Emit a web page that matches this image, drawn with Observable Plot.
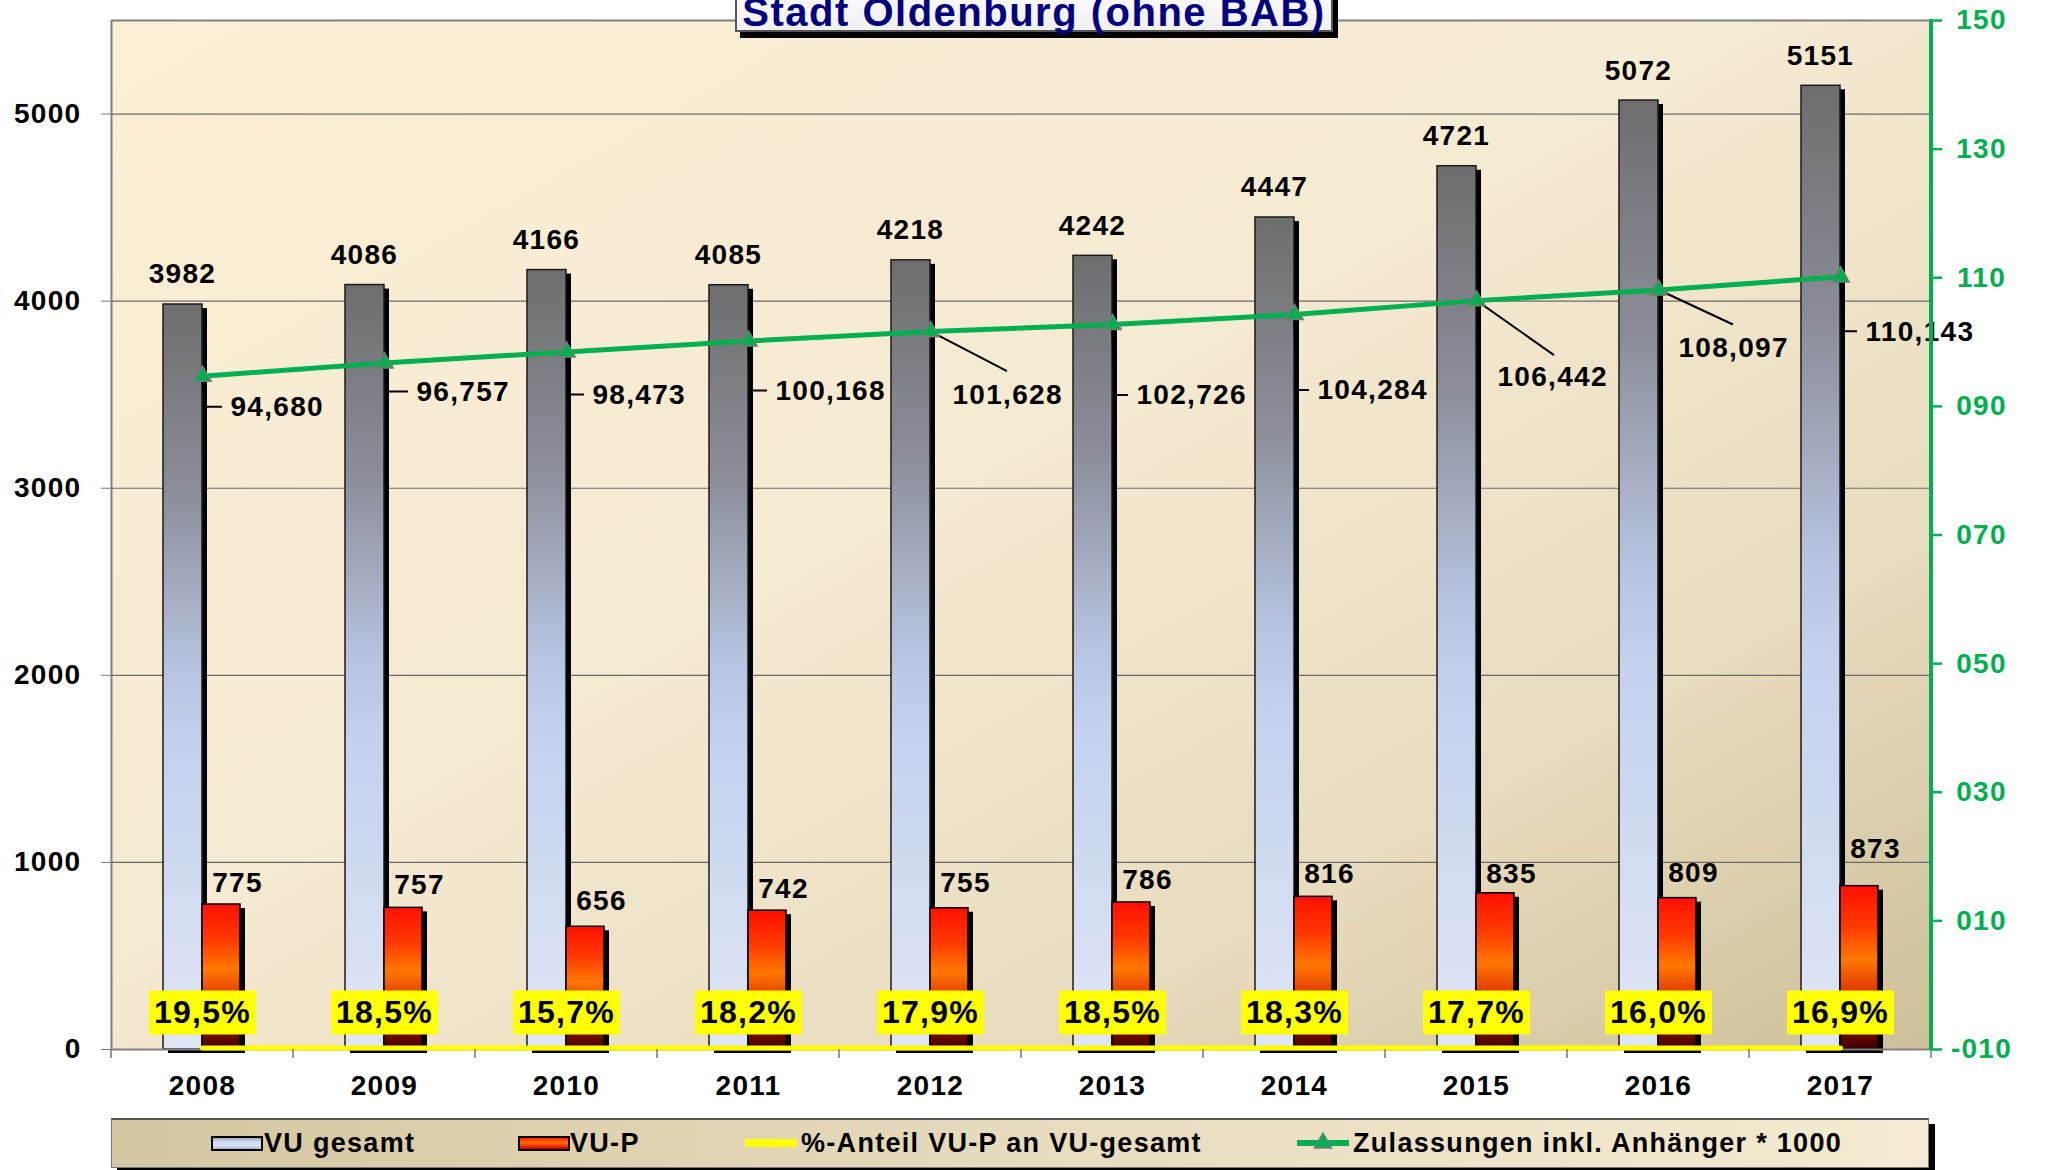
<!DOCTYPE html>
<html><head><meta charset="utf-8">
<script src="https://cdn.jsdelivr.net/npm/d3@7"></script>
<script src="https://cdn.jsdelivr.net/npm/@observablehq/plot@0.6"></script>
<style>
html,body{margin:0;padding:0;background:#fff;width:2046px;height:1170px;overflow:hidden;position:relative;font-family:Arial,"Liberation Sans",sans-serif;}
#chart{position:absolute;left:0;top:0;}
#chart svg text{letter-spacing:1.3px;}
#title-box{position:absolute;left:735px;top:-20px;width:598px;height:52px;box-sizing:border-box;background:linear-gradient(#ffffff,#f0f0f0);border:2px solid #555;box-shadow:5px 6px 0 #000;}
#title{position:absolute;left:735px;top:-8px;width:598px;text-align:center;font-size:40px;line-height:40px;font-weight:bold;color:#000080;letter-spacing:1.5px;white-space:nowrap;}
#legend{position:absolute;left:111px;top:1118px;width:1818px;height:50px;box-sizing:border-box;border:1px solid #777;border-top:2px solid #555;background:linear-gradient(90deg,#d4c6a0,#e6dbbd 50%,#f5ebd2);box-shadow:6px 6px 0 #000;font-size:27px;font-weight:bold;letter-spacing:1.3px;color:#000;}
.item{position:absolute;top:0;height:46px;line-height:46px;white-space:nowrap;}
.sw{position:absolute;top:16px;width:52px;height:15px;box-sizing:border-box;border:2px solid #000;}
</style></head><body>
<div id="chart"></div>
<div id="title-box"></div>
<div id="title"></div>
<div id="legend"></div>
<script>
// ---- data ----
const titleText = "Stadt Oldenburg (ohne BAB)";
const years = ["2008","2009","2010","2011","2012","2013","2014","2015","2016","2017"];
const vuGesamt = [3982,4086,4166,4085,4218,4242,4447,4721,5072,5151];
const vuP = [775,757,656,742,755,786,816,835,809,873];
const anteil = [19.5,18.5,15.7,18.2,17.9,18.5,18.3,17.7,16.0,16.9];
const zulassungen = [94680,96757,98473,100168,101628,102726,104284,106442,108097,110143];
const leftTicks = [0,1000,2000,3000,4000,5000];
const rightTicks = [-10,10,30,50,70,90,110,130,150];
const leftDomain = [0,5500];
const rightDomain = [-10,150];
const seriesNames = ["VU gesamt","VU-P","%-Anteil VU-P an VU-gesamt","Zulassungen inkl. Anhänger * 1000"];

// ---- layout (pixel offsets of labels and leader lines) ----
const zulLabelLayout = [
  {dx:28, dy:31},
  {dx:32, dy:29},
  {dx:26, dy:43},
  {dx:27, dy:50},
  {dx:22, dy:63, leader:[77,40]},
  {dx:24, dy:71},
  {dx:23, dy:76},
  {dx:21, dy:76, leader:[78,55]},
  {dx:20, dy:58, leader:[75,35]},
  {dx:25, dy:55}
];
const vupLabelDy = [-21,-23,-26,-22,-25,-22,-23,-19,-25,-37];

const rows = years.map((year,i)=>({year, gesamt:vuGesamt[i], vup:vuP[i], anteil:anteil[i], zul:zulassungen[i], i}));
const toLeft = r => (r - rightDomain[0]) / (rightDomain[1]-rightDomain[0]) * leftDomain[1];
const toRight = l => l / leftDomain[1] * (rightDomain[1]-rightDomain[0]) + rightDomain[0];
const fmtPct = v => v.toFixed(1).replace(".", ",") + "%";
const fmtZul = v => (v/1000).toFixed(3).replace(".", ",");
const fmtR = v => (v < 0 ? "-" : "") + String(Math.abs(v)).padStart(3,"0");
const zulY = d => toLeft(d.zul/1000);
const pctY = d => d.anteil/100;

const GREEN = "#00b050";

const defs = () => {
  const d = d3.create("svg:defs");
  const grad = (id, stops, x2=0, y2=1) => {
    const g = d.append("linearGradient").attr("id", id).attr("x1",0).attr("y1",0).attr("x2",x2).attr("y2",y2);
    stops.forEach(([o,c]) => g.append("stop").attr("offset", o).attr("stop-color", c));
  };
  grad("bgGrad", [[0,"#fcefd6"],[0.45,"#f5ead2"],[0.75,"#e8dcbe"],[1,"#cdbf99"]], 1, 1);
  grad("grayGrad", [[0,"#6e6e6e"],[0.25,"#8b8e99"],[0.5,"#b8c5e2"],[0.6,"#c4d2ee"],[1,"#dfe6f5"]]);
  grad("redGrad", [[0,"#ff1000"],[0.25,"#ff3a00"],[0.45,"#ff7800"],[0.7,"#d82400"],[1,"#3c0000"]]);
  return d.node();
};

const leaders = (index, scales) => {
  const x = scales.x, y = scales.y, bw = x.bandwidth ? x.bandwidth() : 0;
  const g = d3.create("svg:g").attr("stroke","#000").attr("stroke-width",2).attr("fill","none");
  rows.forEach((d,i) => {
    const mx = x(d.year) + bw/2, my = y(zulY(d));
    const L = zulLabelLayout[i];
    const p = L.leader
      ? `M${mx},${my}L${mx+L.leader[0]},${my+L.leader[1]}`
      : `M${mx},${my}L${mx+3},${my+L.dy}L${mx+L.dx-8},${my+L.dy}`;
    g.append("path").attr("d", p);
  });
  return g.node();
};

const xBoundaryTicks = (index, scales, values, dims) => {
  const x = scales.x, bw = x.bandwidth();
  const y0 = dims.height - dims.marginBottom;
  const g = d3.create("svg:g").attr("stroke","#777").attr("stroke-width",1.5);
  const xs = years.map(yr => x(yr)).concat([x(years[years.length-1]) + bw]);
  xs.forEach(px => g.append("line").attr("x1",px).attr("x2",px).attr("y1",y0).attr("y2",y0+9));
  return g.node();
};

const rightAxisLine = (index, scales, values, dims) => {
  const xr = dims.width - dims.marginRight;
  return d3.create("svg:line").attr("x1",xr).attr("x2",xr)
    .attr("y1",dims.marginTop-1).attr("y2",dims.height-dims.marginBottom+1)
    .attr("stroke",GREEN).attr("stroke-width",4).node();
};

const boxSymbol = {draw(ctx){ ctx.rect(-53.5,-22,107,44); }};

const chart = Plot.plot({
  width: 2046, height: 1110,
  marginTop: 20, marginRight: 115, marginBottom: 61, marginLeft: 111,
  style: {fontFamily: "Arial, 'Liberation Sans', sans-serif", fontSize: "28px", fontWeight: "bold", color: "#000", background: "transparent", overflow: "visible"},
  x: {type: "band", domain: years, padding: 0, axis: null, label: null},
  y: {domain: leftDomain, nice: false, axis: null, label: null},
  marks: [
    defs,
    Plot.frame({fill: "url(#bgGrad)", stroke: "none"}),
    Plot.ruleY(leftTicks.slice(1), {stroke: "#6a6a6a", strokeWidth: 1.2}),
    Plot.barY(rows, {x:"year", y:"gesamt", fill:"#000", insetLeft:52, insetRight:91, dx:5, dy:4}),
    Plot.barY(rows, {x:"year", y:"gesamt", fill:"url(#grayGrad)", stroke:"#1a1a1a", strokeWidth:1.5, insetLeft:52, insetRight:91}),
    Plot.barY(rows, {x:"year", y:"vup", fill:"#000", insetLeft:91, insetRight:53, dx:5, dy:4}),
    Plot.barY(rows, {x:"year", y:"vup", fill:"url(#redGrad)", stroke:"#000", strokeWidth:1.5, insetLeft:91, insetRight:53}),
    Plot.frame({stroke:"#808080", strokeWidth:2, fill:"none"}),
    Plot.line(rows, {x:"year", y: zulY, stroke: GREEN, strokeWidth: 5}),
    leaders,
    Plot.dot(rows, {x:"year", y: zulY, symbol:"triangle", r:6.5, fill: GREEN, stroke:"#7a7a7a", strokeWidth:1.5}),
    Plot.line(rows, {x:"year", y: pctY, stroke:"#ffff00", strokeWidth:5, dy:-1.5}),
    Plot.dot(rows, {x:"year", y: pctY, symbol: boxSymbol, fill:"#ffff00", stroke:"none", dy:-37}),
    Plot.text(rows, {x:"year", y: pctY, text: d => fmtPct(d.anteil), dy:-37, fontSize:32, fill:"#000"}),
    Plot.text(rows, {x:"year", y:"gesamt", text: d => String(d.gesamt), dx:-20, dy:-30, fill:"#000"}),
    ...rows.map((d,i) => Plot.text([d], {x:"year", y:"vup", text: r => String(r.vup), dx:35, dy: vupLabelDy[i], fill:"#000"})),
    ...rows.map((d,i) => Plot.text([d], {x:"year", y: zulY, text: r => fmtZul(r.zul), textAnchor:"start", dx: zulLabelLayout[i].dx, dy: zulLabelLayout[i].dy, fill:"#000"})),
    xBoundaryTicks,
    rightAxisLine,
    Plot.axisY({ticks: leftTicks, tickFormat: d => String(d), tickSize: 10, tickPadding: 20, stroke:"#777", fill:"#000", label: null}),
    Plot.axisY({anchor:"right", ticks: rightTicks.map(toLeft), tickFormat: d => fmtR(Math.round(toRight(d))), tickSize: 10, tickPadding: 40, textAnchor:"middle", stroke: GREEN, fill: GREEN, strokeWidth: 2.5, label: null}),
    Plot.axisX({tickSize: 0, tickPadding: 26, fill:"#000", label: null})
  ]
});
document.getElementById("chart").appendChild(chart);
document.getElementById("title").textContent = titleText;

// ---- legend ----
const legend = document.getElementById("legend");
const legendItems = [
  {sw: '<div class="sw" style="left:0;background:linear-gradient(#9fa8bd,#d2dcf0 35%,#d6e0f3 70%,#aab3c8)"></div>', swLeft: 99, textLeft: 152},
  {sw: '<div class="sw" style="left:0;background:linear-gradient(#ff2000,#ff7000 45%,#ff2800 75%,#b00000)"></div>', swLeft: 406, textLeft: 458},
  {sw: '<div style="position:absolute;left:0;top:19px;width:52px;height:8px;background:#ffff00"></div>', swLeft: 633, textLeft: 689},
  {sw: '<svg style="position:absolute;left:0;top:8px" width="52" height="30"><line x1="0" x2="52" y1="15" y2="15" stroke="'+GREEN+'" stroke-width="6"/><path d="M26,5L34.5,20H17.5Z" fill="'+GREEN+'" stroke="#7a7a7a" stroke-width="1.5"/></svg>', swLeft: 1185, textLeft: 1241}
];
legendItems.forEach((it,i) => {
  const s = document.createElement("div");
  s.className = "item"; s.style.left = it.swLeft + "px"; s.style.width = "52px";
  s.innerHTML = it.sw;
  legend.appendChild(s);
  const t = document.createElement("div");
  t.className = "item"; t.style.left = it.textLeft + "px";
  t.textContent = seriesNames[i];
  legend.appendChild(t);
});
</script>
</body></html>
